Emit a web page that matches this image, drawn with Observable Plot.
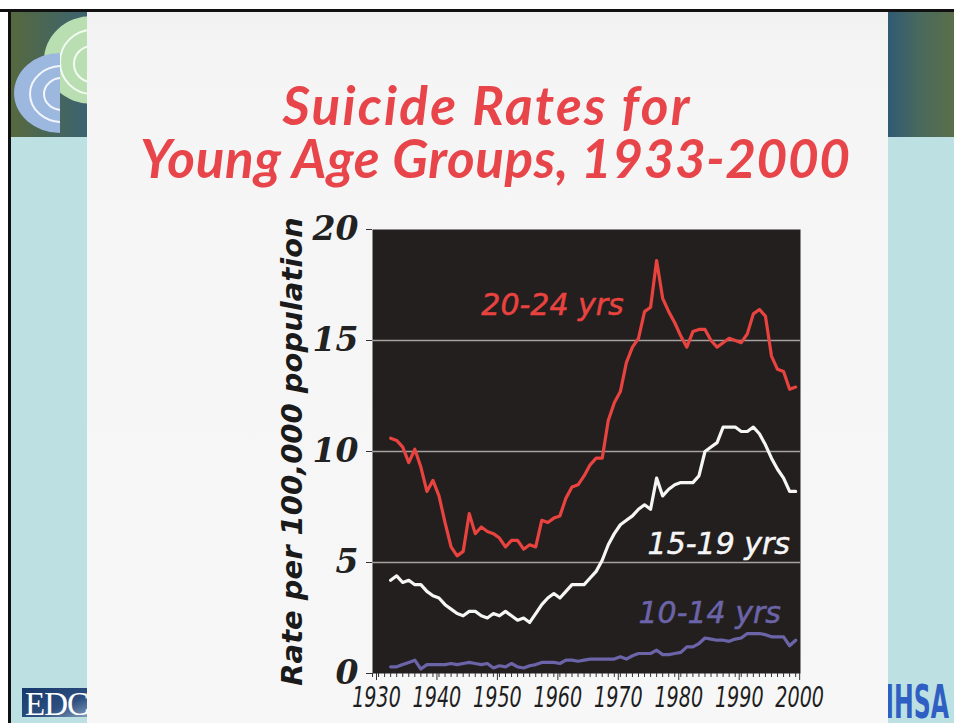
<!DOCTYPE html>
<html>
<head>
<meta charset="utf-8">
<script src="https://cdn.jsdelivr.net/npm/d3@7"></script>
<script src="https://cdn.jsdelivr.net/npm/@observablehq/plot@0.6"></script>
<style>
html,body{margin:0;padding:0;width:954px;height:723px;overflow:hidden;background:#fff;}
body{position:relative;font-family:"DejaVu Sans",sans-serif;}
.abs{position:absolute;}
#bg{left:11px;top:12px;width:943px;height:711px;background:#bde1e3;}
#bandL{left:11px;top:12px;width:76px;height:125px;background:linear-gradient(to right,#56693f,#3b6370);}
#bandR{left:888px;top:12px;width:66px;height:125px;background:linear-gradient(to right,#305a73,#4a6a5c 50%,#5a6e4a);}
#topline{left:0;top:9px;width:954px;height:3px;background:#111;z-index:5;}
#leftline{left:8px;top:9px;width:3px;height:714px;background:#111;z-index:5;}
#card{left:87px;top:12px;width:801px;height:711px;background:linear-gradient(#f2f2f2,#f5f5f5 12%,#f7f7f7);z-index:2;}
#title{left:87px;top:12px;z-index:3;}
#chart{left:260px;top:200px;z-index:3;}
</style>
</head>
<body>
<div class="abs" id="bg"></div>
<div class="abs" id="bandL"></div>
<div class="abs" id="bandR"></div>
<svg class="abs" style="left:0;top:0;z-index:1" width="100" height="140">
  <defs><clipPath id="cl"><rect x="0" y="0" width="60" height="140"/></clipPath></defs>
  <ellipse cx="92" cy="60" rx="48" ry="44" fill="#b8deb2"/>
  <circle cx="92" cy="62" r="32" fill="none" stroke="#f4fbf2" stroke-width="2"/>
  <circle cx="92" cy="64" r="18" fill="none" stroke="#f4fbf2" stroke-width="2"/>
  <g clip-path="url(#cl)">
    <ellipse cx="60" cy="93" rx="46" ry="40" fill="#9db8df"/>
    <ellipse cx="62" cy="94" rx="32" ry="28" fill="none" stroke="#f2f6fc" stroke-width="2"/>
    <ellipse cx="62" cy="94" rx="18" ry="16" fill="none" stroke="#f2f6fc" stroke-width="2"/>
  </g>
</svg>
<svg class="abs" style="left:0;top:680px;z-index:1" width="100" height="43">
  <defs><linearGradient id="edc" x1="0" x2="1" y1="0" y2="1"><stop offset="0" stop-color="#17386a"/><stop offset="0.6" stop-color="#2c4f80"/><stop offset="1" stop-color="#8aa2bf"/></linearGradient></defs>
  <rect x="22" y="8" width="70" height="29" fill="url(#edc)"/>
  <text x="25" y="35" fill="#ffffff" font-family="Liberation Serif, serif" font-size="33" letter-spacing="-1">EDC</text>
</svg>
<svg class="abs" style="left:840px;top:676px;z-index:1" width="114" height="47">
  <text transform="translate(109,42) scale(0.57,1)" text-anchor="end" fill="#2f5fc2" font-family="Liberation Sans Narrow, DejaVu Sans Condensed, sans-serif" font-weight="bold" font-size="46">SAMHSA</text>
</svg>
<div class="abs" id="topline"></div>
<div class="abs" id="leftline"></div>
<div class="abs" id="card"></div>
<svg class="abs" id="title" width="801" height="190">
  <text x="399" y="113" text-anchor="middle" fill="#e8454a" font-family="Lato, sans-serif" font-style="italic" font-weight="bold" font-size="53" textLength="407" lengthAdjust="spacing">Suicide Rates for</text>
  <text x="408" y="166" text-anchor="middle" fill="#e8454a" font-family="Lato, sans-serif" font-style="italic" font-weight="bold" font-size="53" textLength="710" lengthAdjust="spacing">Young Age Groups, 1933-2000</text>
</svg>
<div class="abs" id="chart"></div>
<script>
const years = d3.range(1933, 2001);
const rate2024 = [10.6,10.5,10.2,9.5,10.1,9.3,8.2,8.7,8.0,6.8,
  5.7,5.3,5.5,7.2,6.3,6.6,6.4,6.3,6.1,5.7,
  6.0,6.0,5.6,5.8,5.7,6.9,6.8,7.0,7.1,7.9,
  8.4,8.5,8.9,9.4,9.7,9.7,11.4,12.2,12.7,14.0,
  14.7,15.1,16.3,16.5,18.6,16.9,16.3,15.8,15.2,14.7,
  15.4,15.5,15.5,15.0,14.7,14.9,15.1,15.0,14.9,15.3,
  16.2,16.4,16.1,14.3,13.7,13.6,12.8,12.9];
const rate1519 = [4.2,4.4,4.1,4.2,4.0,4.0,3.7,3.5,3.4,3.1,
  2.9,2.7,2.6,2.8,2.8,2.6,2.5,2.7,2.6,2.8,
  2.6,2.4,2.5,2.3,2.7,3.1,3.4,3.6,3.4,3.7,
  4.0,4.0,4.0,4.3,4.6,5.1,5.8,6.3,6.7,6.9,
  7.1,7.4,7.6,7.4,8.8,8.0,8.3,8.5,8.6,8.6,
  8.6,8.9,10.0,10.2,10.4,11.1,11.1,11.1,10.9,10.9,
  11.1,10.8,10.3,9.7,9.2,8.8,8.2,8.2];
const rate1014 = [0.3,0.3,0.4,0.5,0.6,0.2,0.4,0.4,0.4,0.4,
  0.45,0.4,0.45,0.5,0.45,0.4,0.45,0.25,0.35,0.3,
  0.45,0.3,0.25,0.35,0.4,0.5,0.5,0.5,0.45,0.6,
  0.6,0.55,0.6,0.65,0.65,0.65,0.65,0.65,0.75,0.65,
  0.8,0.9,0.9,0.9,1.05,0.85,0.85,0.9,0.95,1.2,
  1.2,1.35,1.6,1.55,1.5,1.5,1.45,1.55,1.6,1.8,
  1.8,1.8,1.75,1.65,1.65,1.65,1.25,1.5];
const seriesNames = ["20-24 yrs", "15-19 yrs", "10-14 yrs"];
const seriesColors = ["#e8433f", "#f6f6f6", "#6b64a8"];
const labelYears = [1948, 1975.5, 1974];
const labelRates = [16.6, 5.8, 2.7];
const xTicks = [1930, 1940, 1950, 1960, 1970, 1980, 1990, 2000];
const xMinorTicks = d3.range(1930, 2001);
const yTicks = [0, 5, 10, 15, 20];
const gridRates = [5, 10, 15];
const yLabel = "Rate per 100,000 population";

const allRates = [rate2024, rate1519, rate1014];
const data = [];
seriesNames.forEach((s, i) => years.forEach((yr, j) => data.push({series: s, year: yr, rate: allRates[i][j]})));
const labels = seriesNames.map((s, i) => ({series: s, year: labelYears[i], rate: labelRates[i]}));

const chart = Plot.plot({
  width: 580,
  height: 520,
  marginLeft: 112,
  marginRight: 40,
  marginTop: 29,
  marginBottom: 47,
  style: {background: "transparent", overflow: "visible"},
  x: {domain: [1930, 2000.8]},
  y: {domain: [0, 20]},
  color: {domain: seriesNames, range: seriesColors},
  marks: [
    Plot.frame({fill: "#231f1f"}),
    Plot.ruleY(gridRates, {stroke: "#a5a29e", strokeWidth: 1.5}),
    Plot.axisX({ticks: xMinorTicks, tickSize: 4, tickFormat: () => "", label: null, stroke: "#333"}),
    Plot.axisX({ticks: xTicks, tickSize: 7, tickPadding: 6, tickFormat: "d", label: null,
      fontSize: 29, fontFamily: "DejaVu Sans, sans-serif", fontStyle: "italic", dx: 4,
      fill: "#1e1e1e", stroke: "#333"}),
    Plot.axisY({ticks: yTicks, tickSize: 6, tickPadding: 8, label: null,
      fontSize: 33, fontFamily: "DejaVu Serif, serif", fontStyle: "italic", fontWeight: "bold",
      fill: "#222", stroke: "#333"}),
    Plot.text([yLabel], {frameAnchor: "left", textAnchor: "middle", lineAnchor: "middle", rotate: -90, dx: -80, fontSize: 29,
      fontFamily: "DejaVu Sans, sans-serif", fontWeight: "bold", fontStyle: "italic", fill: "#1a1a1a"}),
    Plot.line(data, {x: "year", y: "rate", z: "series", stroke: "series", strokeWidth: 3.2}),
    Plot.text(labels, {x: "year", y: "rate", text: "series", fill: "series", textAnchor: "start",
      fontSize: 30, fontStyle: "italic", fontFamily: "DejaVu Sans, sans-serif", stroke: "series", strokeWidth: 0.5})
  ]
});
// condense the decade labels horizontally, like the narrow italic face of the original
d3.select(chart).selectAll("text").each(function() {
  const t = this.textContent;
  if (/^(19|20)\d0$/.test(t)) {
    const tr = this.getAttribute("transform") || "";
    this.setAttribute("transform", tr + " scale(0.66,1)");
  }
});
document.getElementById("chart").appendChild(chart);
</script>
</body>
</html>
